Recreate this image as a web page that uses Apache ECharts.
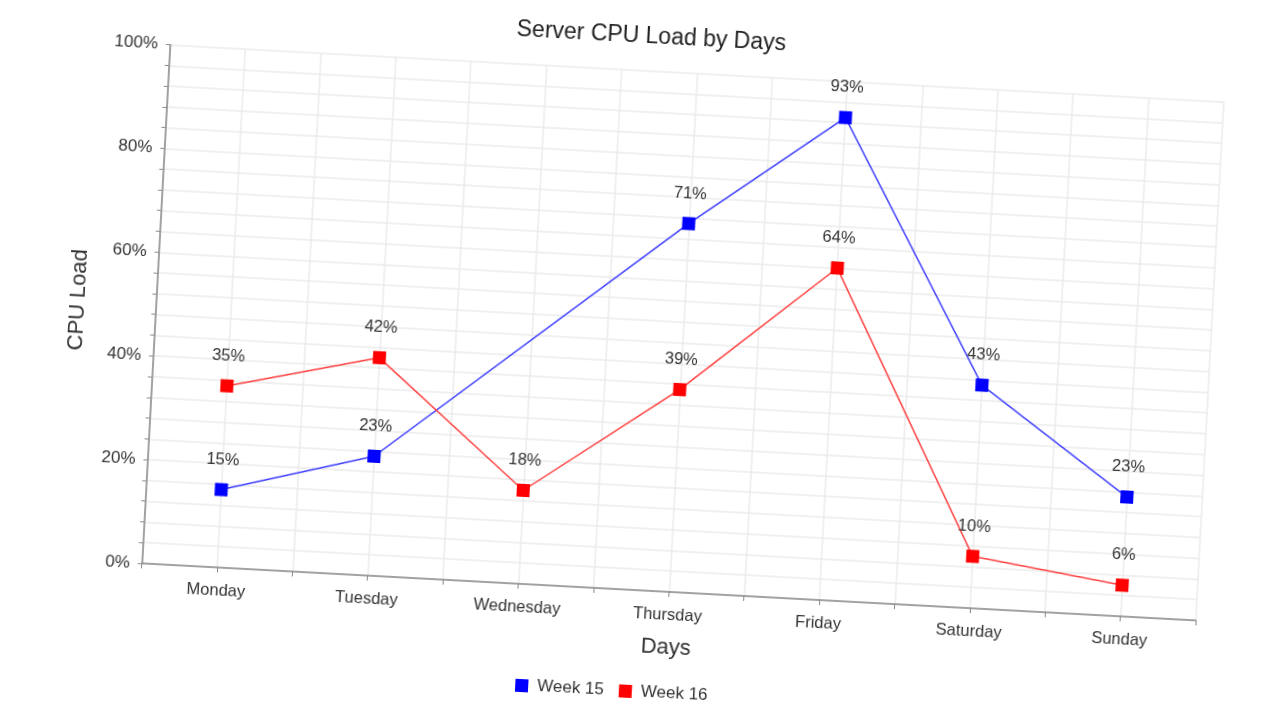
<!DOCTYPE html>
<html>
<head>
<meta charset="utf-8">
<script src="https://cdn.jsdelivr.net/npm/echarts@6/dist/echarts.min.js"></script>
<style>
html,body{margin:0;padding:0;width:1280px;height:720px;overflow:hidden;background:#fff;}
#chart{position:absolute;left:0;top:0;width:1280px;height:720px;transform:rotate(3.1deg);transform-origin:640px 360px;}
</style>
</head>
<body>
<div id="chart"></div>
<script>
const days = ['Monday','Tuesday','Wednesday','Thursday','Friday','Saturday','Sunday'];
const week15 = [15, 23, null, 71, 93, 43, 23];
const week16 = [35, 42, 18, 39, 64, 10, 6];
const yTicks = [0, 20, 40, 60, 80, 100];

const chart = echarts.init(document.getElementById('chart'), null, {renderer:'canvas'});
const font = 'Liberation Sans, Arial, sans-serif';
function pts(arr){ return arr.map((v,i)=>[i, v]); }

chart.setOption({
  backgroundColor:'transparent',
  animation:false,
  title:{text:'Server CPU Load by Days', left:494, top:20,
    textStyle:{fontFamily:font, fontSize:23, fontWeight:'normal', color:'#222'}},
  legend:{bottom:15, left:528, icon:'rect', itemWidth:13, itemHeight:13, itemGap:15,
    textStyle:{fontFamily:font, fontSize:17, color:'#333', padding:[0,0,0,4]},
    data:['Week 15','Week 16']},
  grid:{left:153.5, right:71, top:70.5, bottom:130, containLabel:false},
  xAxis:{type:'value', min:-0.5, max:6.5, interval:0.5,
    name:'Days', nameLocation:'middle', nameGap:45,
    nameTextStyle:{fontFamily:font, fontSize:22, color:'#333'},
    axisLine:{show:true, onZero:false, lineStyle:{color:'#888', width:1.5}},
    axisTick:{show:true, length:5, lineStyle:{color:'#888'}},
    axisLabel:{margin:15, fontFamily:font, fontSize:16.5, color:'#333',
      showMinLabel:true, showMaxLabel:true,
      formatter:function(v){ return Number.isInteger(v) ? days[v] : ''; }},
    splitLine:{show:true, lineStyle:{color:'#ebebeb', width:1.5}}
  },
  yAxis:{type:'value', min:yTicks[0], max:yTicks[yTicks.length-1], interval:20,
    name:'CPU Load', nameLocation:'middle', nameGap:64,
    nameTextStyle:{fontFamily:font, fontSize:22, color:'#333'},
    axisLine:{show:true, onZero:false, lineStyle:{color:'#888', width:1.5}},
    axisTick:{show:true, length:4, lineStyle:{color:'#888'}},
    minorTick:{show:true, splitNumber:5, length:4, lineStyle:{color:'#888'}},
    axisLabel:{margin:12, fontFamily:font, fontSize:17, color:'#333', formatter:'{value}%'},
    splitLine:{show:true, lineStyle:{color:'#ebebeb', width:1.5}},
    minorSplitLine:{show:true, lineStyle:{color:'#ebebeb', width:1.5}}
  },
  series:[
    {name:'Week 15', type:'line', data:pts(week15), connectNulls:true,
     symbol:'rect', symbolSize:13, itemStyle:{color:'#0000ff'},
     lineStyle:{color:'#4040ff', width:1.5},
     label:{show:true, position:'top', distance:15, formatter:p=>p.value[1]+'%',
       fontFamily:font, fontSize:16.5, color:'#333'}},
    {name:'Week 16', type:'line', data:pts(week16), connectNulls:true,
     symbol:'rect', symbolSize:13, itemStyle:{color:'#ff0000'},
     lineStyle:{color:'#ff4040', width:1.5},
     label:{show:true, position:'top', distance:15, formatter:p=>p.value[1]+'%',
       fontFamily:font, fontSize:16.5, color:'#333'}}
  ]
});
</script>
</body>
</html>
